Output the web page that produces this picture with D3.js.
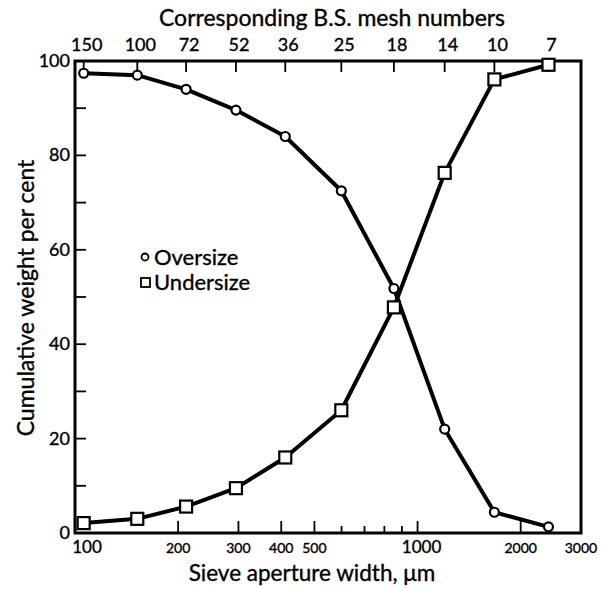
<!DOCTYPE html>
<html><head><meta charset="utf-8">
<script src="https://cdn.jsdelivr.net/npm/d3@7"></script>
<style>body{margin:0;background:#fff}svg{display:block}text{font-family:Lato,"DejaVu Sans",sans-serif;fill:#000;stroke:#000;stroke-width:0.35px}</style>
</head><body>
<svg id="c" width="613" height="589"></svg>
<script>
const apertures = [106, 152, 211, 295, 411, 599, 853, 1200, 1676, 2411];
const meshNumbers = ["150", "100", "72", "52", "36", "25", "18", "14", "10", "7"];
const oversize = [97.4, 97, 94, 89.6, 84, 72.5, 51.8, 22, 4.4, 1.3];
const undersize = [2.1, 3, 5.6, 9.5, 16, 26, 47.8, 76.3, 96.1, 99.2];
const xTickValues = [200, 300, 400, 500, 600, 700, 800, 900, 1000, 2000];
const xMajorTicks = [200, 300, 400, 500, 1000, 2000];
const xTickLabels = [100, 200, 300, 400, 500, 1000, 2000, 3000];
const yTickValues = [0, 10, 20, 30, 40, 50, 60, 70, 80, 90, 100];
const yTickLabels = [0, 20, 40, 60, 80, 100];

const svg = d3.select("#c");
const L = 75, R = 581, T = 61, B = 533;
const x = d3.scaleLog().domain([100, 3000]).range([L, R]);
const y = d3.scaleLinear().domain([0, 100]).range([B, T]);

// ticks
const g = svg.append("g").attr("stroke", "#000").attr("stroke-width", 1.8);
xTickValues.forEach(v => {
  const len = xMajorTicks.includes(v) ? 12 : 7;
  g.append("line").attr("x1", x(v)).attr("x2", x(v)).attr("y1", B).attr("y2", B - len);
});
apertures.forEach(v => {
  g.append("line").attr("x1", x(v)).attr("x2", x(v)).attr("y1", T).attr("y2", T + 11);
});
yTickValues.forEach(v => {
  g.append("line").attr("x1", L).attr("x2", L + 11).attr("y1", y(v)).attr("y2", y(v));
});

// frame
svg.append("rect").attr("x", L).attr("y", T).attr("width", R - L).attr("height", B - T)
  .attr("fill", "none").attr("stroke", "#000").attr("stroke-width", 3);

// y tick labels
yTickLabels.forEach(v => {
  svg.append("text").attr("x", L - 5).attr("y", y(v) + 6).attr("text-anchor", "end")
    .attr("font-size", 18).text(v);
});
// x tick labels
xTickLabels.forEach(v => {
  const big = (v === 100 || v === 1000);
  let xx = x(v);
  if (v === 100) xx += 12;
  if (v === 1000) xx += 4;
  svg.append("text").attr("x", xx).attr("y", 553).attr("text-anchor", "middle")
    .attr("font-size", big ? 17 : 14).text(v);
});
// top mesh labels
apertures.forEach((v, i) => {
  svg.append("text").attr("x", x(v) + 3).attr("y", 51).attr("text-anchor", "middle")
    .attr("font-size", 18).text(meshNumbers[i]);
});

// titles
svg.append("text").attr("x", 332).attr("y", 26).attr("text-anchor", "middle")
  .attr("font-size", 23).text("Corresponding B.S. mesh numbers");
svg.append("text").attr("x", 312).attr("y", 581).attr("text-anchor", "middle")
  .attr("font-size", 22.5).text("Sieve aperture width, \u03BCm");
svg.append("text").attr("transform", "translate(34,298) rotate(-90)").attr("text-anchor", "middle")
  .attr("font-size", 23).text("Cumulative weight per cent");

// lines
const line = d3.line().x(d => x(d[0])).y(d => y(d[1]));
const overPts = apertures.map((a, i) => [a, oversize[i]]);
const underPts = apertures.map((a, i) => [a, undersize[i]]);
[overPts, underPts].forEach(pts => {
  svg.append("path").attr("d", line(pts)).attr("fill", "none").attr("stroke", "#000")
    .attr("stroke-width", 4).attr("stroke-linejoin", "round");
});
svg.selectAll("circle.o").data(overPts).enter().append("circle")
  .attr("cx", d => x(d[0])).attr("cy", d => y(d[1])).attr("r", 4.5)
  .attr("fill", "#fff").attr("stroke", "#000").attr("stroke-width", 2.2);
const s = 12;
svg.selectAll("rect.u").data(underPts).enter().append("rect")
  .attr("x", d => x(d[0]) - s / 2).attr("y", d => y(d[1]) - s / 2).attr("width", s).attr("height", s)
  .attr("fill", "#fff").attr("stroke", "#000").attr("stroke-width", 2.2);

// legend
svg.append("circle").attr("cx", 145).attr("cy", 257).attr("r", 3.5)
  .attr("fill", "#fff").attr("stroke", "#000").attr("stroke-width", 1.8);
svg.append("text").attr("x", 154).attr("y", 265).attr("font-size", 22).text("Oversize");
svg.append("rect").attr("x", 141).attr("y", 278).attr("width", 9).attr("height", 9)
  .attr("fill", "#fff").attr("stroke", "#000").attr("stroke-width", 1.8);
svg.append("text").attr("x", 154).attr("y", 290).attr("font-size", 22).text("Undersize");
</script>
</body></html>
